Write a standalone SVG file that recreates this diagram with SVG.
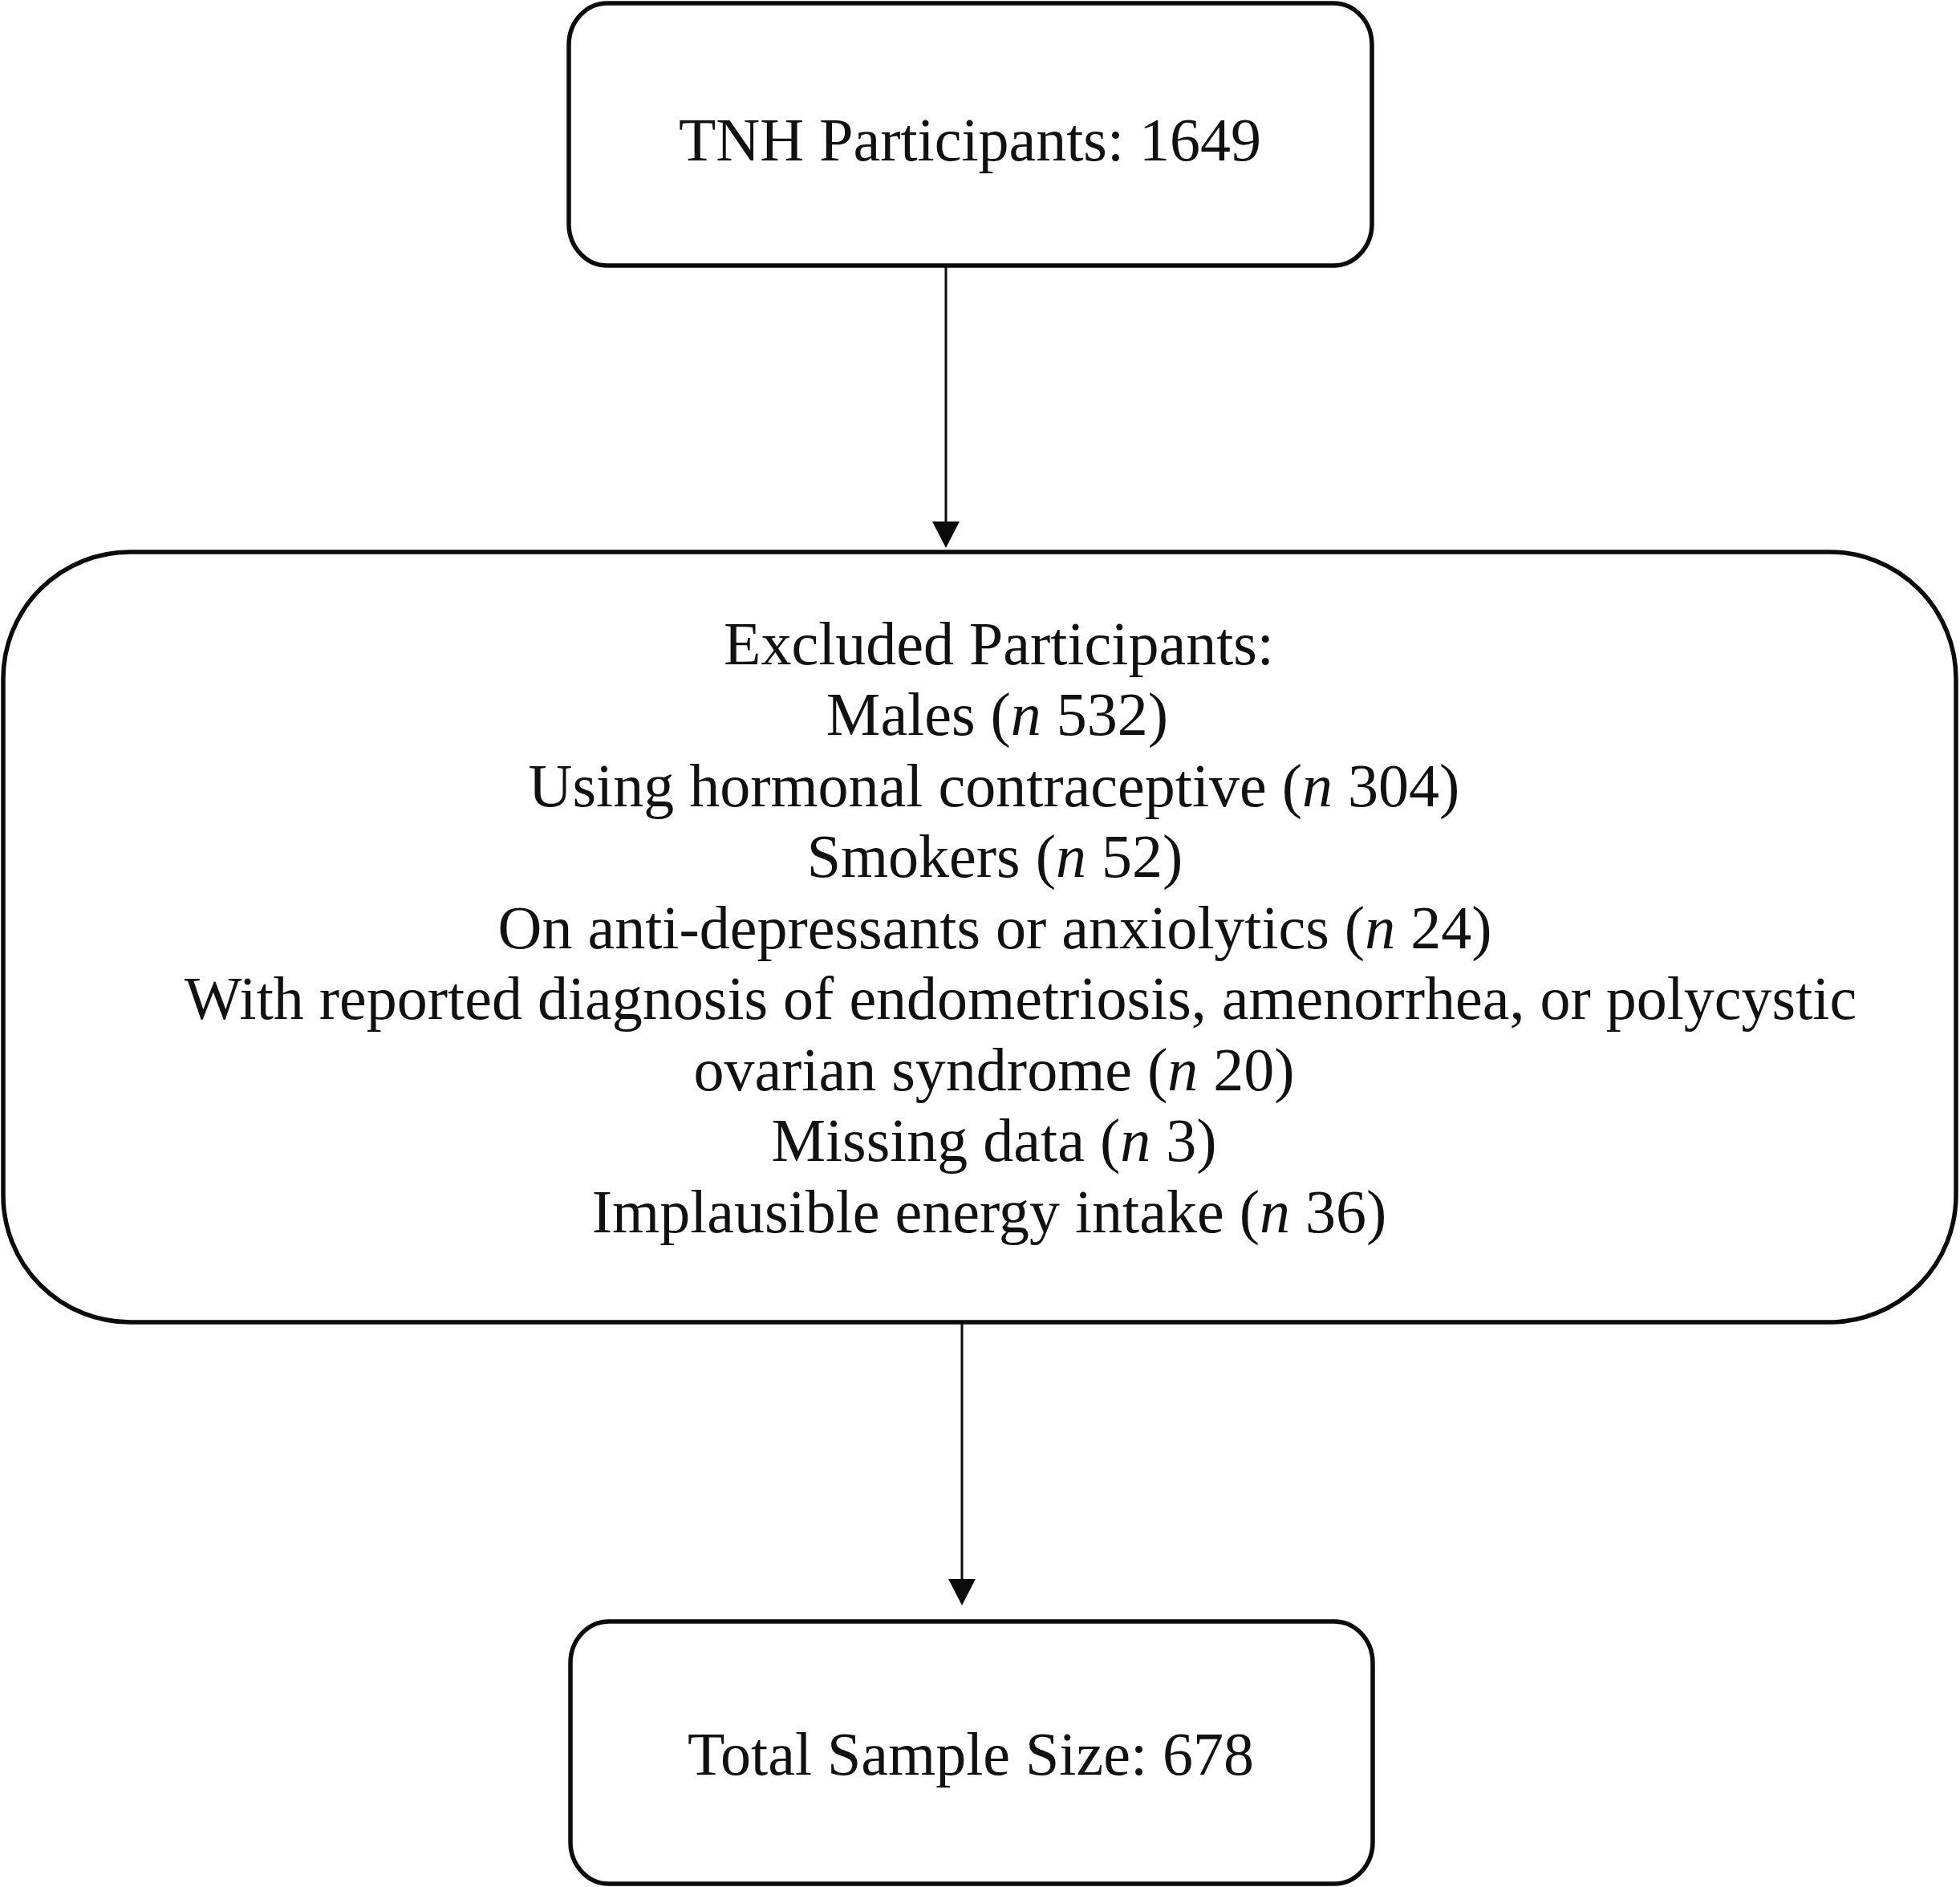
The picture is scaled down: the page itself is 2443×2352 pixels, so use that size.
<svg xmlns="http://www.w3.org/2000/svg" width="2443" height="2352" viewBox="0 0 2443 2352">
<style>
.box{fill:#fff;stroke:#0b0b0b;stroke-width:5.5}
.t{font-family:"Liberation Serif","Times New Roman",serif;font-size:76px;fill:#111;text-anchor:middle}
.c{stroke:#0b0b0b;stroke-width:3;fill:none}
</style>
<defs>
<marker id="ah" markerUnits="userSpaceOnUse" markerWidth="33" markerHeight="34" refX="0" refY="17" orient="auto" viewBox="0 0 33 34">
<path d="M0,0 L33,17 L0,34 Z" fill="#0b0b0b"/>
</marker>
</defs>
<rect width="2443" height="2352" fill="#fff"/>
<g id="connectors">
<line class="c" x1="1179" y1="331" x2="1179" y2="650" marker-end="url(#ah)"/>
<line class="c" x1="1199" y1="1648" x2="1199" y2="1968" marker-end="url(#ah)"/>
</g>
<g id="node-tnh">
<rect class="box" x="709" y="4" width="1001" height="327" rx="48" ry="52"/>
<text class="t" x="1209" y="200">TNH Participants: 1649</text>
</g>
<g id="node-excluded">
<rect class="box" x="4" y="688" width="2434" height="960" rx="158" ry="158"/>
<text class="t" x="1245" y="828">Excluded Participants:</text>
<text class="t" x="1243" y="916">Males (<tspan font-style="italic">n</tspan> 532)</text>
<text class="t" x="1239" y="1005">Using hormonal contraceptive (<tspan font-style="italic">n</tspan> 304)</text>
<text class="t" x="1240" y="1093">Smokers (<tspan font-style="italic">n</tspan> 52)</text>
<text class="t" x="1240" y="1182">On anti-depressants or anxiolytics (<tspan font-style="italic">n</tspan> 24)</text>
<text class="t" x="1272" y="1270">With reported diagnosis of endometriosis, amenorrhea, or polycystic</text>
<text class="t" x="1239" y="1359">ovarian syndrome (<tspan font-style="italic">n</tspan> 20)</text>
<text class="t" x="1239" y="1447">Missing data (<tspan font-style="italic">n</tspan> 3)</text>
<text class="t" x="1233" y="1536">Implausible energy intake (<tspan font-style="italic">n</tspan> 36)</text>
</g>
<g id="node-total">
<rect class="box" x="711" y="2021" width="1000" height="327" rx="48" ry="52"/>
<text class="t" x="1210" y="2212">Total Sample Size: 678</text>
</g>
</svg>
